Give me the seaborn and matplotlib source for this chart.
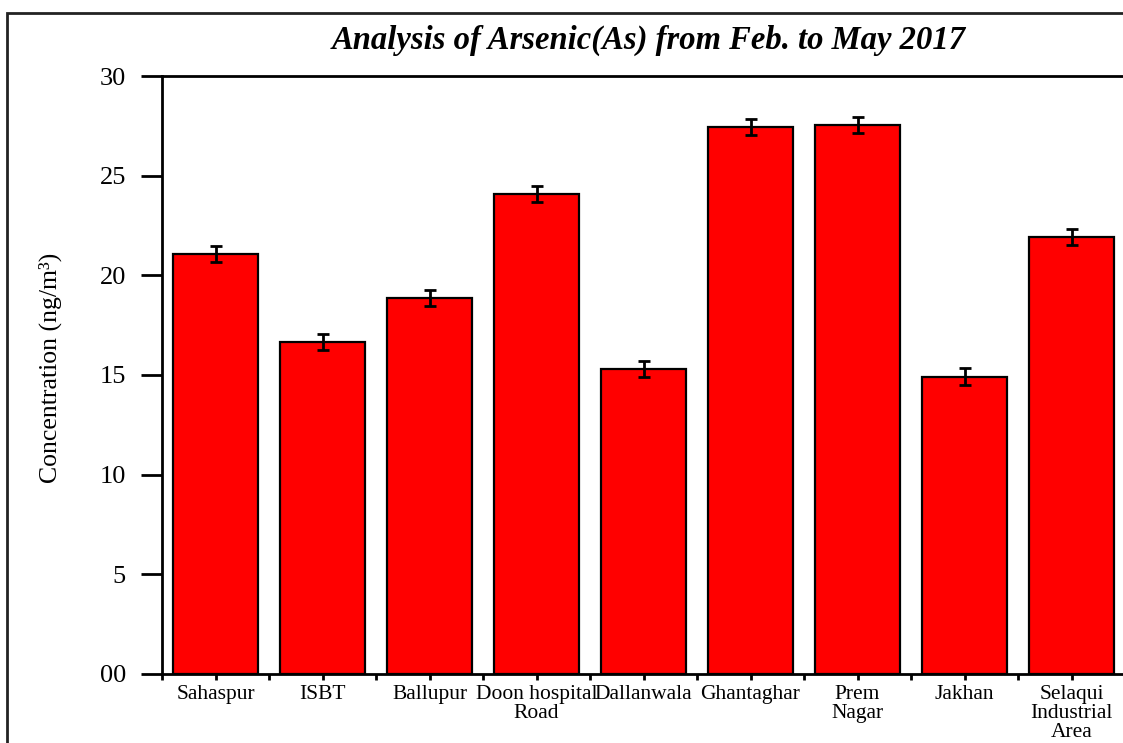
import numpy as np
import pandas as pd
import matplotlib.pyplot as plt
import seaborn as sns
from matplotlib.patches import Rectangle
from matplotlib.ticker import FixedLocator

# valores
sites = ["Sahaspur", "ISBT", "Ballupur", "Doon hospital\nRoad", "Dallanwala",
         "Ghantaghar", "Prem\nNagar", "Jakhan", "Selaqui\nIndustrial\nArea"]
arsenic = [21.07, 16.66, 18.88, 24.08, 15.30, 27.45, 27.53, 14.92, 21.93]
arsenic_err = [0.42, 0.40, 0.40, 0.40, 0.42, 0.40, 0.40, 0.42, 0.40]
y_ticks = [0, 5, 10, 15, 20, 25, 30]
y_ticklabels = ["00", "5", "10", "15", "20", "25", "30"]
title = "Analysis of Arsenic(As) from Feb. to May 2017"


def plot_arsenic():
    sns.set_style("ticks")
    plt.rcParams["font.family"] = ["Liberation Serif", "DejaVu Serif"]
    plt.rcParams.update({"text.color": "black", "axes.edgecolor": "black",
                         "axes.labelcolor": "black", "xtick.color": "black",
                         "ytick.color": "black"})

    df = pd.DataFrame({"site": sites, "conc": arsenic})

    fig = plt.figure(figsize=(11.23, 7.43), dpi=100)
    ax = fig.add_axes([0.1443, 0.0929, 0.8575, 0.8048])

    sns.barplot(data=df, x="site", y="conc", color="#ff0000", saturation=1,
                width=0.8, edgecolor="black", linewidth=1.6, errorbar=None, ax=ax)
    ax.errorbar(np.arange(len(sites)), arsenic, yerr=arsenic_err, fmt="none",
                ecolor="black", elinewidth=2, capsize=4.5, capthick=2)

    ax.set_xlim(-0.5, len(sites) - 0.5)
    ax.set_ylim(0, 30)
    ax.set_yticks(y_ticks)
    ax.set_yticklabels(y_ticklabels)
    ax.xaxis.set_minor_locator(FixedLocator(np.arange(-0.5, len(sites), 1)))

    ax.tick_params(axis="y", length=15, width=2, pad=11, labelsize=19)
    ax.tick_params(axis="x", which="both", length=4, width=2, pad=4, labelsize=15.5)
    for lbl in ax.get_xticklabels():
        lbl.set_linespacing(1.0)

    ax.set_xlabel("")
    ax.set_ylabel("Concentration (ng/m³)", fontsize=18.5)
    ax.yaxis.set_label_coords(-0.104, 0.5125)

    for side in ["left", "bottom", "top", "right"]:
        ax.spines[side].set_visible(True)
        ax.spines[side].set_linewidth(2)

    fig.text(0.578, 0.946, title, ha="center", va="center", fontsize=23.5,
             fontweight="bold", fontstyle="italic")

    # moldura externa
    fig.patches.append(Rectangle((7 / 1123, -0.1), 1.2, 1.0825, transform=fig.transFigure,
                                 fill=False, linewidth=2, edgecolor="#222222"))

    fig.savefig("out.png", dpi=100)


if __name__ == "__main__":
    plot_arsenic()
